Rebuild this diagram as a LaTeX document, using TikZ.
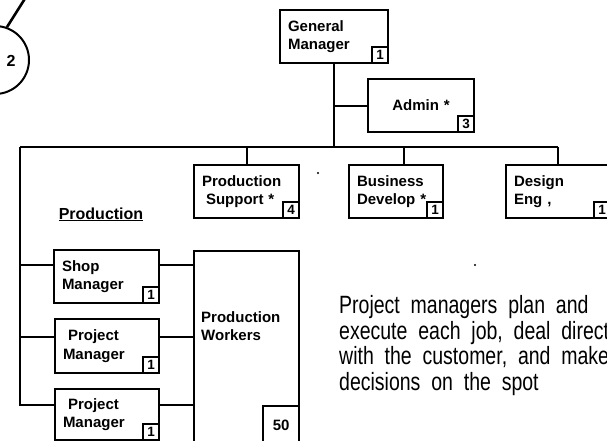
\documentclass[tikz,border=0pt]{standalone}
\usepackage{fontspec}
\setmainfont{Liberation Sans}
\newfontfamily\notefont[FakeStretch=0.78,WordSpace=2]{Liberation Sans}
\usetikzlibrary{positioning}

\begin{document}
\begin{tikzpicture}[
              x=1pt, y=-1pt,
              unit/.style={draw, line width=2pt, anchor=north west, align=left, inner xsep=8pt, inner ysep=0pt, font=\bfseries\fontsize{15}{18.5}\selectfont},
              count/.style={draw, fill=white, line width=1.6pt, anchor=south east, minimum size=16pt, inner sep=0pt, font=\bfseries\fontsize{13.5}{13.5}\selectfont},
              link/.style={line width=2pt}
            ]

            % Frame
            \useasboundingbox (0,0) rectangle (607,440);
            \clip (0,0) rectangle (607,440);

            % Nodes
            \node[unit, text width=92, minimum height=53] (gm) at (279,9) {General\\Manager};
            \node[count] (gmn) at (gm.south east) {1};
            \node[unit, align=center, text width=90, minimum height=53] (admin) at (367,78) {Admin *};
            \node[count] (adminn) at (admin.south east) {3};

            \node[unit, text width=89, minimum height=53] (supp) at (193,164) {Production\\\hspace*{4pt}Support *};
            \node[count] (suppn) at (supp.south east) {4};
            \node[unit, text width=78, minimum height=53] (biz) at (348,164) {Business\\Develop *};
            \node[count] (bizn) at (biz.south east) {1};
            \node[unit, text width=88, minimum height=53] (design) at (505,164) {Design\\Eng ,};
            \node[count] (designn) at (design.south east) {1};

            \node[font=\bfseries\fontsize{16}{16}\selectfont, anchor=base] (prodhead) at (101,219) {\underline{Production}};

            \node[unit, text width=89, minimum height=53] (shop) at (53,249) {Shop\\Manager};
            \node[count] (shopn) at (shop.south east) {1};
            \node[unit, text width=88, minimum height=54] (pm1) at (54,318) {\hspace*{5pt}Project\\Manager};
            \node[count] (pm1n) at (pm1.south east) {1};
            \node[unit, text width=88, minimum height=51] (pm2) at (54,388) {\hspace*{5pt}Project\\Manager};
            \node[count] (pm2n) at (pm2.south east) {1};

            \node[unit, text width=89, minimum height=200] (workers) at (193,250) {};
            \node[anchor=north west, align=left, inner sep=0pt, font=\bfseries\fontsize{15}{18.5}\selectfont] (workerstext) at (201,311) {Production\\Workers};
            \node[count, anchor=north east, minimum width=36pt, minimum height=40pt, font=\bfseries\fontsize{15}{15}\selectfont] (workersn) at ([yshift=-155pt]workers.north east) {50};

            \node[circle, draw, line width=2pt, minimum size=68pt, inner sep=0pt] (two) at (-5,60) {};
            \node[font=\bfseries\fontsize{16}{16}\selectfont] (twotext) at (11,61) {2};

            \node[anchor=north west, align=left, inner sep=0pt, font=\notefont\fontsize{25}{25.7}\selectfont] (note) at (339,295) {Project managers plan and\\execute each job, deal direct\\with the customer, and make\\decisions on the spot};

            % Edges
            \coordinate (up) at (26,-3);
            \coordinate (corner) at (20,147);
            \coordinate (bizin) at ([xshift=8pt]biz.north);
            \coordinate (shopin) at ([yshift=-16pt]shop.north west);
            \coordinate (pm1in) at ([yshift=-19pt]pm1.north west);
            \coordinate (pm2in) at ([yshift=-17pt]pm2.north west);
            \coordinate (shopout) at ([yshift=-16pt]shop.north east);
            \coordinate (pm1out) at ([yshift=-19pt]pm1.north east);
            \coordinate (pm2out) at ([yshift=-17pt]pm2.north east);

            \draw[line width=2.6pt] (two.70) -- (up);
            \draw[link] (gm.south) -- (gm.south |- corner);
            \draw[link] (gm.south |- admin.west) -- (admin.west);
            \draw[link] (corner) -- (corner -| design.north);
            \draw[link] (supp.north) -- (supp.north |- corner);
            \draw[link] (bizin) -- (bizin |- corner);
            \draw[link] (design.north) -- (design.north |- corner);
            \draw[link] (corner) |- (pm2in);
            \draw[link] (shopin) -- (shopin -| corner);
            \draw[link] (pm1in) -- (pm1in -| corner);
            \draw[link] (shopout) -- (shopout -| workers.west);
            \draw[link] (pm1out) -- (pm1out -| workers.west);
            \draw[link] (pm2out) -- (pm2out -| workers.west);

            \fill (318,173) circle (1.2pt);
            \fill (475,265) circle (1.2pt);

            \end{tikzpicture}
\end{document}
